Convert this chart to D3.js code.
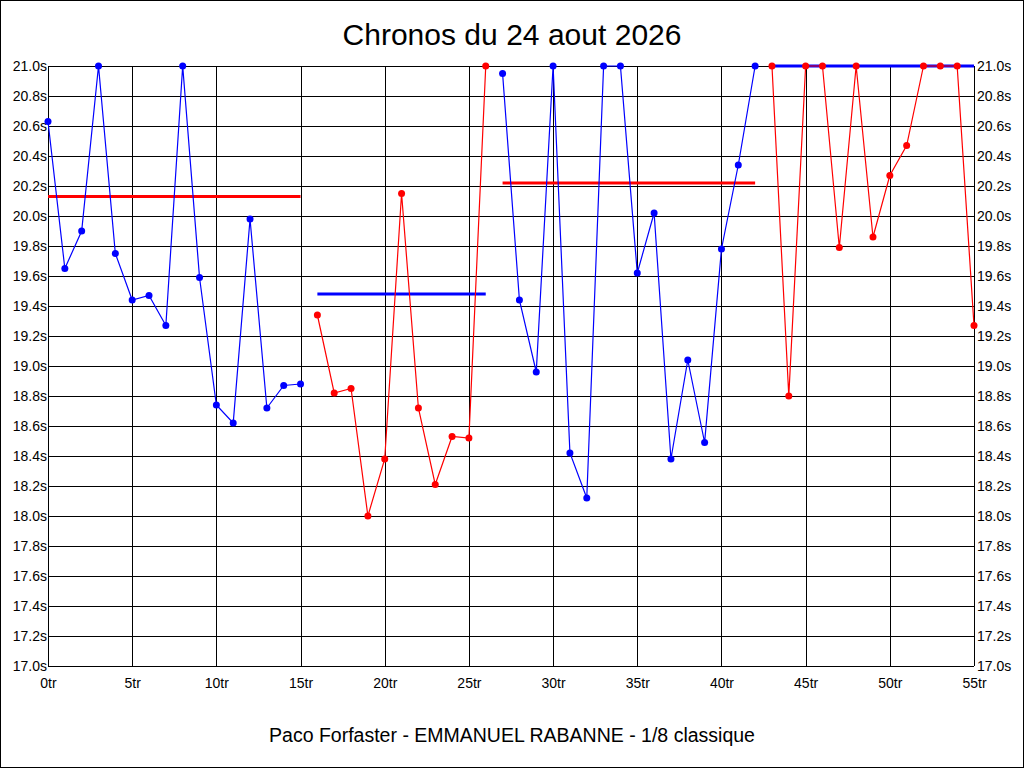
<!DOCTYPE html>
<html>
<head>
<meta charset="utf-8">
<script src="https://cdn.jsdelivr.net/npm/d3@7"></script>
<style>
  body { margin: 0; background: #fff; }
  svg { display: block; font-family: "Liberation Sans", Arial, sans-serif; }
</style>
</head>
<body>
<svg id="chart"></svg>
<script>
let width = 1024; let height = 768;
let margin = {top: 66, bottom: 102, left: 48, right: 50};

// laps (tours) and times, split in alternating colour runs
let seg1_laps = d3.range(0, 16);
let seg1_times = [20.63, 19.65, 19.90, 21.0, 19.75, 19.44, 19.47, 19.27, 21.0, 19.59, 18.74, 18.62, 19.98, 18.72, 18.87, 18.88];
let seg2_laps = d3.range(16, 27);
let seg2_times = [19.34, 18.82, 18.85, 18.00, 18.38, 20.15, 18.72, 18.21, 18.53, 18.52, 21.0];
let seg3_laps = d3.range(27, 43);
let seg3_times = [20.95, 19.44, 18.96, 21.0, 18.42, 18.12, 21.0, 21.0, 19.62, 20.02, 18.38, 19.04, 18.49, 19.78, 20.34, 21.0];
let seg4_laps = d3.range(43, 56);
let seg4_times = [21.0, 18.80, 21.0, 21.0, 19.79, 21.0, 19.86, 20.27, 20.47, 21.0, 21.0, 21.0, 19.27];

let seg_colors = ["#0000ff", "#ff0000", "#0000ff", "#ff0000"];

// average bars: start lap, end lap, value (drawn in the opposite colour)
let avg_start = [0, 16, 27, 43];
let avg_end = [15, 26, 42, 55];
let avg_values = [20.13, 19.48, 20.22, 21.0];
let avg_colors = ["#ff0000", "#0000ff", "#ff0000", "#0000ff"];

let x_ticks = d3.range(0, 56, 5);
let y_ticks = d3.range(0, 21).map(i => 17 + i * 0.2);

let title = "Chronos du 24 aout 2026";
let subtitle = "Paco Forfaster - EMMANUEL RABANNE - 1/8 classique";

let svg = d3.select("#chart")
  .attr("width", width)
  .attr("height", height);

let x = d3.scaleLinear().domain([0, 55]).range([margin.left, width - margin.right]);
let y = d3.scaleLinear().domain([17, 21]).range([height - margin.bottom, margin.top]);

// frame round the picture
svg.append("rect")
  .attr("x", 0.5).attr("y", 0.5)
  .attr("width", width - 1).attr("height", height - 1)
  .attr("fill", "#fff").attr("stroke", "#000");

// grid
let grid = svg.append("g").attr("shape-rendering", "crispEdges");
grid.selectAll("line.h")
  .data(y_ticks)
  .enter().append("line")
  .attr("class", "h")
  .attr("x1", x(0)).attr("x2", x(55))
  .attr("y1", d => Math.round(y(d)) + 0.5).attr("y2", d => Math.round(y(d)) + 0.5)
  .attr("stroke", "#000");
grid.selectAll("line.v")
  .data(x_ticks)
  .enter().append("line")
  .attr("class", "v")
  .attr("y1", y(17)).attr("y2", y(21))
  .attr("x1", d => Math.round(x(d)) + 0.5).attr("x2", d => Math.round(x(d)) + 0.5)
  .attr("stroke", "#000");

// axes labels (left, right and bottom)
let yfmt = d => d3.format(".1f")(d) + "s";
let left_axis = d3.axisLeft(y).tickValues(y_ticks).tickFormat(yfmt).tickSize(0).tickPadding(1);
let right_axis = d3.axisRight(y).tickValues(y_ticks).tickFormat(yfmt).tickSize(0).tickPadding(3);
let bottom_axis = d3.axisBottom(x).tickValues(x_ticks).tickFormat(d => d + "tr").tickSize(0).tickPadding(12);

[svg.append("g").attr("transform", "translate(" + x(0) + ",0)").call(left_axis),
 svg.append("g").attr("transform", "translate(" + x(55) + ",0)").call(right_axis),
 svg.append("g").attr("transform", "translate(0," + y(17) + ")").call(bottom_axis)]
  .forEach(function(g) {
    g.select(".domain").remove();
    g.selectAll("text")
      .attr("font-size", 14)
      .attr("fill", "#000")
      .attr("font-family", "Liberation Sans, Arial, sans-serif");
  });

// average bars
avg_values.forEach(function(v, i) {
  svg.append("line")
    .attr("x1", x(avg_start[i])).attr("x2", x(avg_end[i]))
    .attr("y1", y(v)).attr("y2", y(v))
    .attr("stroke", avg_colors[i])
    .attr("stroke-width", 3);
});

// lap time runs
let line = d3.line().x(d => x(d[0])).y(d => y(d[1]));
let segs = [[seg1_laps, seg1_times], [seg2_laps, seg2_times], [seg3_laps, seg3_times], [seg4_laps, seg4_times]];

segs.forEach(function(s, i) {
  let pts = s[0].map((lap, j) => [lap, s[1][j]]);
  svg.append("path")
    .datum(pts)
    .attr("d", line)
    .attr("fill", "none")
    .attr("stroke", seg_colors[i])
    .attr("stroke-width", 1.2);
  svg.append("g").selectAll("circle")
    .data(pts)
    .enter().append("circle")
    .attr("cx", d => x(d[0]))
    .attr("cy", d => y(d[1]))
    .attr("r", 3.5)
    .attr("fill", seg_colors[i]);
});

// titles
svg.append("text")
  .attr("x", width / 2).attr("y", 45)
  .attr("text-anchor", "middle")
  .attr("font-size", 30)
  .attr("textLength", 339)
  .text(title);

svg.append("text")
  .attr("x", width / 2).attr("y", 742)
  .attr("text-anchor", "middle")
  .attr("font-size", 19.5)
  .text(subtitle);
</script>
</body>
</html>
